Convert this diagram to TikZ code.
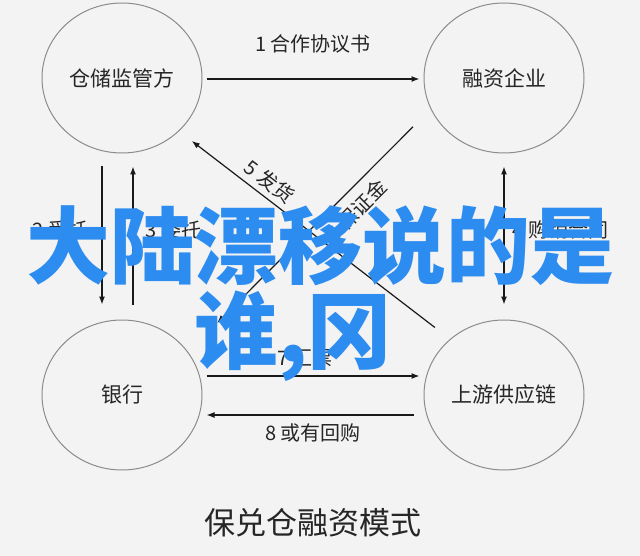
\documentclass[tikz,border=0pt]{standalone}
\usepackage{fontspec}
\setmainfont{Noto Sans CJK SC}
\usetikzlibrary{shapes.geometric,arrows.meta}
\definecolor{bggray}{HTML}{F3F3F3}
\definecolor{headblue}{HTML}{2D8CF0}

\begin{document}
\begin{tikzpicture}[x=1pt,y=-1pt,
    party/.style={ellipse,draw=black!45,line width=1pt,minimum width=160pt,minimum height=150pt,inner sep=0pt,text=black!85,font=\fontsize{21}{25}\selectfont},
    link/.style={line width=1.2pt,draw=black!90,-{Latex[length=8pt,width=6pt]}},
    tag/.style={text=black!85,font=\fontsize{20}{24}\selectfont},
    headline/.style={inner sep=0pt,text=headblue,font=\bfseries\fontsize{84}{90}\selectfont}]
      \fill[bggray] (0,0) rectangle (640,556);
      % parties
      \node[party] (cang) at (122,78) {仓储监管方};
      \node[party] (rong) at (504,78) {融资企业};
      \node[party] (yin) at (122,395) {银行};
      \node[party] (shang) at (504,395) {上游供应链};
      % links
      \draw[link, shorten <=4pt, shorten >=4pt] ([yshift=-1pt]cang.east) -- ([yshift=-1pt]rong.west)
        node[midway, above=22pt, tag] {1 合作协议书};
      \draw[link, shorten <=13pt, shorten >=15pt] ([xshift=-20pt]cang.south) -- ([xshift=-20pt]yin.north)
        node[midway, left=10pt, yshift=7pt, tag] {2 受托};
      \draw[link, shorten <=15pt, shorten >=13pt] ([xshift=11pt]yin.north) -- ([xshift=11pt]cang.south)
        node[midway, right=9pt, yshift=7pt, tag] {3 委托};
      \draw[link, {Latex[length=8pt,width=6pt]}-{Latex[length=8pt,width=6pt]}, shorten <=13pt, shorten >=15pt] (rong.south) -- (shang.north)
        node[midway, right=5pt, yshift=7pt, tag] {4 购销合同};
      \draw[link, shorten <=19pt, shorten >=16pt] (shang.134) -- (cang.-43)
        node[pos=0.7, sloped, above=2pt, tag] {5 发货};
      \draw[link, shorten <=25pt, shorten >=41pt] (rong.203.5) -- (yin.33.7)
        node[pos=0.36, sloped, below=6pt, tag] {6 保证金};
      \draw[link, shorten <=4pt, shorten >=4pt] ([yshift=19pt]yin.east) -- ([yshift=19pt]shang.west)
        node[midway, above=5pt, xshift=-8pt, tag] {7 汇票};
      \draw[link, shorten <=10pt, shorten >=4pt] ([yshift=-20pt]shang.west) -- ([yshift=-20pt]yin.east)
        node[midway, below=5pt, tag] {8 或有回购};
      % caption
      \node[text=black!85, font=\fontsize{31}{36}\selectfont] (caption) at (313,523) {保兑仓融资模式};
      % headline
      \node[headline] (head1) at (321,246) {大陆漂移说的是};
      \node[headline] (head2) at (293,336) {谁,冈};
    \end{tikzpicture}
\end{document}
